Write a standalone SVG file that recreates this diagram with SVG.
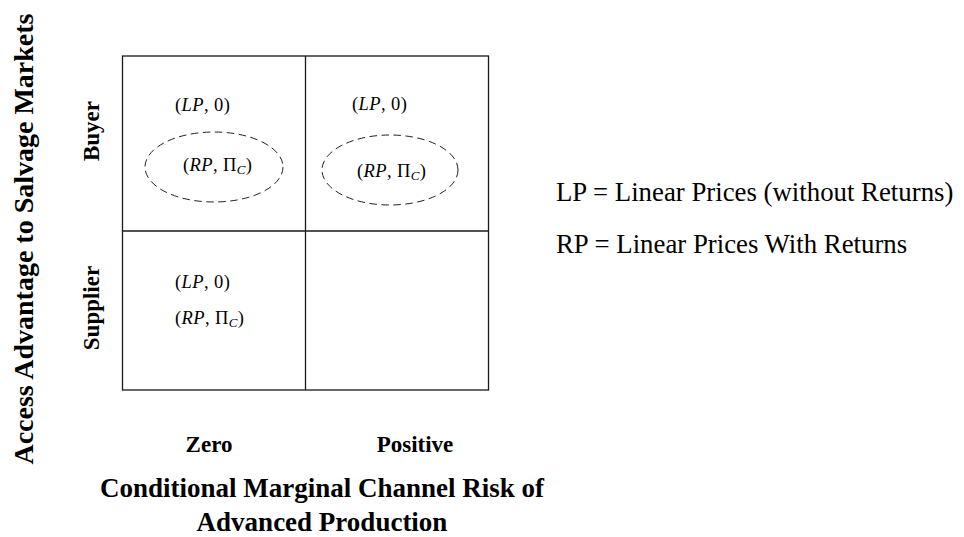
<svg xmlns="http://www.w3.org/2000/svg" width="964" height="537" viewBox="0 0 964 537">
<style>
.grid{fill:none;stroke:#1a1a1a;stroke-width:1.3}
.oval{fill:none;stroke:#222;stroke-width:1;stroke-dasharray:7.5 4.5}
.m{font-family:"Liberation Serif",serif;font-size:18.5px;letter-spacing:0.4px;fill:#000}
.it{font-style:italic}
.b{font-family:"Liberation Serif",serif;font-weight:bold;fill:#000}
.leg{font-family:"Liberation Serif",serif;font-size:26.8px;fill:#000}
</style>
<rect width="964" height="537" fill="#fff"/>
<g id="grid">
<rect class="grid" x="122.5" y="56" width="366" height="334"/>
<line class="grid" x1="305.5" y1="56" x2="305.5" y2="390"/>
<line class="grid" x1="122.5" y1="231" x2="488.5" y2="231"/>
</g>
<g id="cell-buyer-zero">
<text class="m" x="175" y="110.5">(<tspan class="it">LP</tspan>, 0)</text>
<ellipse class="oval" cx="214" cy="167" rx="69" ry="35"/>
<text class="m" x="183" y="171">(<tspan class="it">RP</tspan>, Π<tspan class="it" font-size="13" dy="3">C</tspan><tspan dy="-3">)</tspan></text>
</g>
<g id="cell-buyer-positive">
<text class="m" x="352" y="110">(<tspan class="it">LP</tspan>, 0)</text>
<ellipse class="oval" cx="390" cy="170" rx="68" ry="35"/>
<text class="m" x="357" y="177">(<tspan class="it">RP</tspan>, Π<tspan class="it" font-size="13" dy="3">C</tspan><tspan dy="-3">)</tspan></text>
</g>
<g id="cell-supplier-zero">
<text class="m" x="175" y="288">(<tspan class="it">LP</tspan>, 0)</text>
<text class="m" x="175" y="324">(<tspan class="it">RP</tspan>, Π<tspan class="it" font-size="13" dy="3">C</tspan><tspan dy="-3">)</tspan></text>
</g>
<g id="cell-supplier-positive"></g>
<g id="y-axis">
<text class="b" font-size="28" text-anchor="middle" transform="translate(33,239) rotate(-90)">Access Advantage to Salvage Markets</text>
<text class="b" font-size="23" text-anchor="middle" transform="translate(99,131) rotate(-90)">Buyer</text>
<text class="b" font-size="23" text-anchor="middle" transform="translate(99,308) rotate(-90)">Supplier</text>
</g>
<g id="x-axis">
<text class="b" font-size="23" text-anchor="middle" x="209" y="452">Zero</text>
<text class="b" font-size="23" text-anchor="middle" x="415" y="452">Positive</text>
<text class="b" font-size="27" text-anchor="middle" x="322" y="497">Conditional Marginal Channel Risk of</text>
<text class="b" font-size="27" text-anchor="middle" x="322" y="531">Advanced Production</text>
</g>
<g id="legend">
<text class="leg" x="556" y="201">LP = Linear Prices (without Returns)</text>
<text class="leg" x="556" y="253">RP = Linear Prices With Returns</text>
</g>
<g id="connectors"></g>
</svg>
